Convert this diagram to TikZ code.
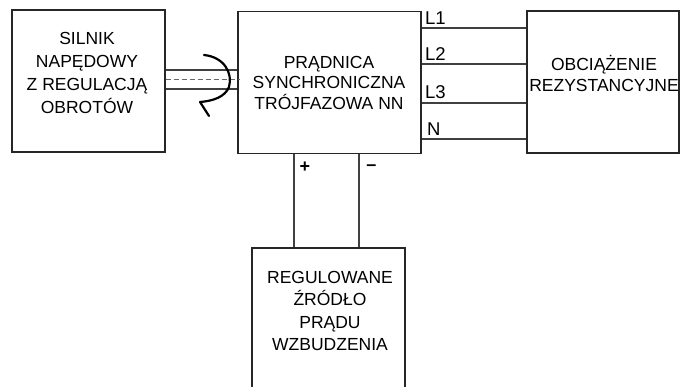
\documentclass[tikz,border=0pt]{standalone}
\usepackage{fontspec}
\setmainfont{Liberation Sans}
\begin{document}
\begin{tikzpicture}[x=1pt,y=-1pt,
  box/.style={draw=black!85,line width=1.3pt,rectangle,inner sep=0pt,minimum width=#1,minimum height=142pt},
  txt/.style={align=center,inner sep=0pt,font=\fontsize{17.5}{#1}\selectfont},
  wire/.style={draw=black!75,line width=1.3pt},
  lab/.style={anchor=south west,inner sep=0pt,font=\fontsize{18.5}{20}\selectfont}]
\useasboundingbox (0,0) rectangle (680,387);
\clip (0,0) rectangle (680,387);
% boxes
\node[box=153pt] (motor) at (88.5,81) {};
\node[box=183pt] (gen) at (329.5,82.5) {};
\node[box=152pt] (load) at (603,82) {};
\node[box=153pt,minimum height=160pt] (src) at (328.5,328) {};
% texts
\node[txt=23pt] (motortxt) at (87,72.5) {SILNIK\\NAPĘDOWY\\Z REGULACJĄ\\OBROTÓW};
\node[txt=20.5pt] (gentxt) at (329,82.5) {PRĄDNICA\\SYNCHRONICZNA\\TRÓJFAZOWA NN};
\node[txt=21pt] (loadtxt) at (604,73.5) {OBCIĄŻENIE\\REZYSTANCYJNE};
\node[txt=22.3pt] (srctxt) at (330,311) {REGULOWANE\\ŹRÓDŁO\\PRĄDU\\WZBUDZENIA};
% shaft
\coordinate (s1) at (0,70);
\coordinate (s2) at (0,89);
\coordinate (s0) at (0,79.5);
\draw[wire] (motor.east |- s1) -- (gen.west |- s1);
\draw[wire] (motor.east |- s2) -- (gen.west |- s2);
\draw[draw=black!60,line width=1pt,dash pattern=on 5pt off 3pt] (motor.east |- s0) -- ([xshift=3pt]gen.west |- s0);
% rotation arrow
\coordinate (rtop) at (204,55);
\coordinate (rtip) at (200,102);
\coordinate (rarm) at (209,116);
\draw[line width=2.2pt,line cap=round,line join=round] (rtop) .. controls (224,57) and (233,73) .. (229,87)
   .. controls (225,97) and (213,101) .. (rtip) -- (rarm);
% phase wires
\coordinate (w1) at (0,28);
\coordinate (w2) at (0,64);
\coordinate (w3) at (0,103);
\coordinate (w4) at (0,139);
\foreach \w in {w1,w2,w3,w4}{\draw[wire] (gen.east |- \w) -- (load.west |- \w);}
\node[lab] (L1) at (425,25) {L1};
\node[lab] (L2) at (425,61) {L2};
\node[lab] (L3) at (425,99) {L3};
\node[lab] (Nl) at (427,136) {N};
% excitation wires
\coordinate (vp) at (294,0);
\coordinate (vm) at (359,0);
\draw[wire] (gen.south -| vp) -- (src.north -| vp);
\draw[wire] (gen.south -| vm) -- (src.north -| vm);
\node[font=\fontsize{18}{20}\bfseries\selectfont,inner sep=0pt] (plus) at (305,167) {+};
\node[font=\fontsize{18}{20}\bfseries\selectfont,inner sep=0pt] (minus) at (371.5,168) {–};
\end{tikzpicture}
\end{document}
